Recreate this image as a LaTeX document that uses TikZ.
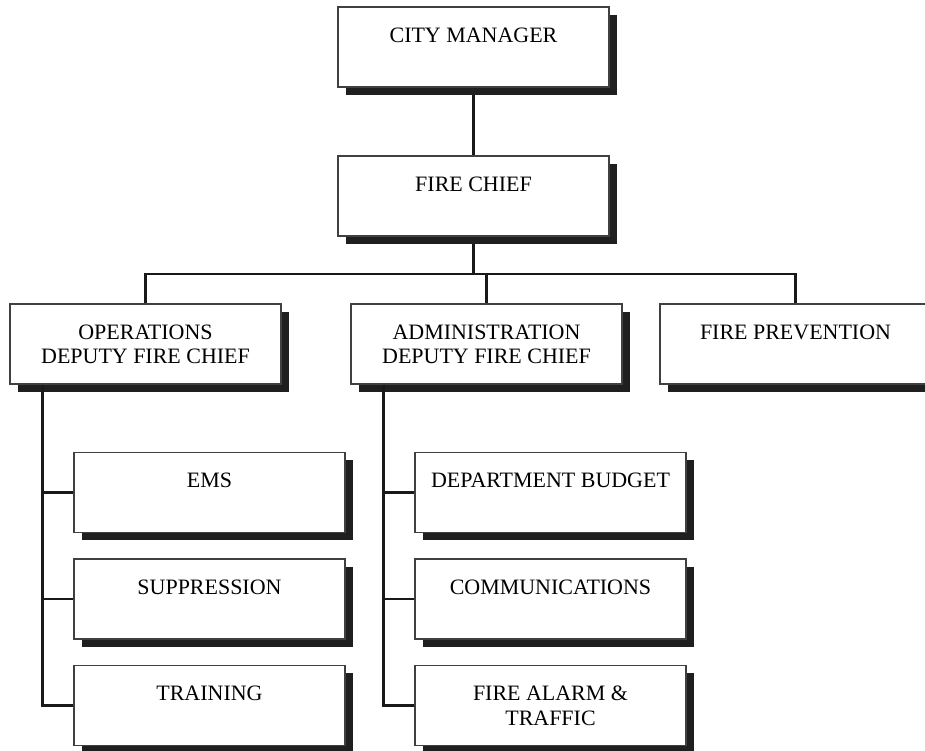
\documentclass[tikz,border=0pt]{standalone}
\usepackage{fontspec}
\setmainfont{Liberation Serif}
\usetikzlibrary{positioning, calc, shadows}

% box text: first baseline near the top of the box
\newcommand{\orgtext}[1]{\parbox[c][1.6cm][t]{5.42cm}{\centering\rule{0pt}{0.7cm}#1}}

\begin{document}
\begin{tikzpicture}[
    every node/.style={font=\fontsize{12.5}{14.2}\selectfont},
    orgbox/.style={draw=black!75, line width=0.7pt, fill=white, inner sep=0pt,
      drop shadow={shadow xshift=0.15cm, shadow yshift=-0.15cm, opacity=1, fill=black!88}},
    link/.style={line width=1.5pt, black!90}
  ]
  \useasboundingbox (0,0) rectangle (18.5,-15);

  % top levels
  \node[orgbox] (cm)  at (9.47,-0.94) {\orgtext{CITY MANAGER}};
  \node[orgbox] (fc)  at (9.47,-3.92) {\orgtext{FIRE CHIEF}};

  % deputies
  \node[orgbox] (ops) at (2.91,-6.88)  {\orgtext{OPERATIONS\\DEPUTY FIRE CHIEF}};
  \node[orgbox] (adm) at (9.73,-6.88)  {\orgtext{ADMINISTRATION\\DEPUTY FIRE CHIEF}};
  \node[orgbox] (fp)  at (15.91,-6.88) {\orgtext{FIRE PREVENTION}};

  % operations divisions
  \node[orgbox] (ems) at (4.19,-9.85)  {\orgtext{EMS}};
  \node[orgbox] (sup) at (4.19,-11.98) {\orgtext{SUPPRESSION}};
  \node[orgbox] (trn) at (4.19,-14.11) {\orgtext{TRAINING}};

  % administration divisions
  \node[orgbox] (bud) at (11.01,-9.85)  {\orgtext{DEPARTMENT BUDGET}};
  \node[orgbox] (com) at (11.01,-11.98) {\orgtext{COMMUNICATIONS}};
  \node[orgbox] (fal) at (11.01,-14.11) {\orgtext{FIRE ALARM \&\\TRAFFIC}};

  % connectors
  \draw[link] ([yshift=-0.15cm]cm.south) -- (fc.north);
  \draw[link] ([yshift=-0.15cm]fc.south) -- ++(0,-0.6) coordinate (bus);
  \draw[link] (ops.north) |- (bus) -| (fp.north);
  \draw[link] (adm.north) -- (adm.north |- bus);

  \coordinate (opsbus) at ([xshift=0.66cm]ops.south west);
  \coordinate (admbus) at ([xshift=0.66cm]adm.south west);
  \draw[link] (opsbus) |- (trn.west);
  \draw[link] (admbus) |- (fal.west);
  \foreach \n in {ems,sup} \draw[link] (\n.west) -- (\n.west -| opsbus);
  \foreach \n in {bud,com} \draw[link] (\n.west) -- (\n.west -| admbus);
\end{tikzpicture}
\end{document}
